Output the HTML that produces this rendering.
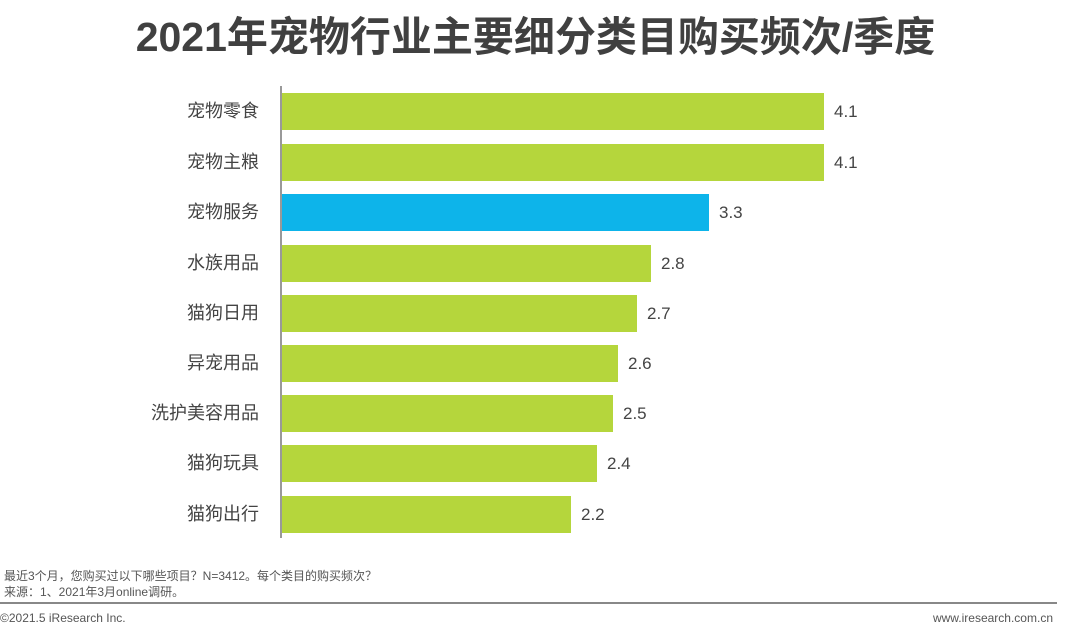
<!DOCTYPE html>
<html><head><meta charset="utf-8"><style>
body{margin:0;width:1071px;height:635px;background:#fff;position:relative;overflow:hidden;font-family:"Liberation Sans","Noto Sans CJK SC",sans-serif;}
.t{position:absolute;left:0;width:1071px;top:3px;text-align:center;font-size:41px;font-weight:bold;color:#404040;white-space:nowrap;}
.ax{position:absolute;left:280px;top:86px;width:2px;height:452px;background:#999;}
.b{position:absolute;left:282px;height:37px;background:#b5d63c;}
.l{position:absolute;width:259px;left:0;text-align:right;font-size:18px;color:#444;line-height:37px;}
.v{position:absolute;font-size:17px;color:#444;line-height:37px;}
.f{position:absolute;left:4px;font-size:12px;color:#555;white-space:nowrap;}
</style></head><body>
<div class="t">2021年宠物行业主要细分类目购买频次/季度</div>
<div class="ax"></div>

<div class="l" style="top:93px">宠物零食</div><div class="b" style="top:93px;width:542px"></div><div class="v" style="top:93px;left:834px">4.1</div>
<div class="l" style="top:144px">宠物主粮</div><div class="b" style="top:144px;width:542px"></div><div class="v" style="top:144px;left:834px">4.1</div>
<div class="l" style="top:194px">宠物服务</div><div class="b" style="top:194px;width:427px;background:#0db4ea"></div><div class="v" style="top:194px;left:719px">3.3</div>
<div class="l" style="top:245px">水族用品</div><div class="b" style="top:245px;width:369px"></div><div class="v" style="top:245px;left:661px">2.8</div>
<div class="l" style="top:295px">猫狗日用</div><div class="b" style="top:295px;width:355px"></div><div class="v" style="top:295px;left:647px">2.7</div>
<div class="l" style="top:345px">异宠用品</div><div class="b" style="top:345px;width:336px"></div><div class="v" style="top:345px;left:628px">2.6</div>
<div class="l" style="top:395px">洗护美容用品</div><div class="b" style="top:395px;width:331px"></div><div class="v" style="top:395px;left:623px">2.5</div>
<div class="l" style="top:445px">猫狗玩具</div><div class="b" style="top:445px;width:315px"></div><div class="v" style="top:445px;left:607px">2.4</div>
<div class="l" style="top:496px">猫狗出行</div><div class="b" style="top:496px;width:289px"></div><div class="v" style="top:496px;left:581px">2.2</div>

<div class="f" style="top:567px">最近3个月，您购买过以下哪些项目？N=3412。每个类目的购买频次？</div>
<div class="f" style="top:583px">来源：1、2021年3月online调研。</div>
<div style="position:absolute;left:0;top:602px;width:1057px;height:2px;background:#888"></div>
<div class="f" style="top:611px;left:0">©2021.5 iResearch Inc.</div>
<div class="f" style="top:611px;left:auto;right:18px">www.iresearch.com.cn</div>
</body></html>
